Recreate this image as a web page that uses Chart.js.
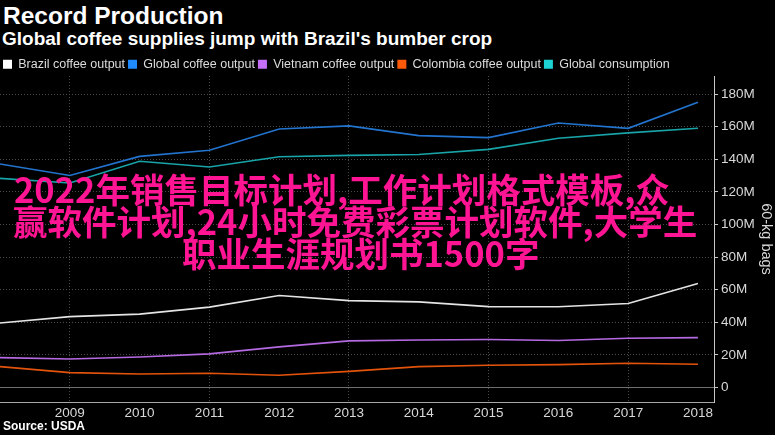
<!DOCTYPE html>
<html>
<head>
<meta charset="utf-8">
<script src="https://cdn.jsdelivr.net/npm/chart.js@4"></script>
<style>
    html, body { margin: 0; padding: 0; background: #000; }
    #page { position: relative; width: 775px; height: 435px; overflow: hidden; background: #000; }
    .title { position: absolute; left: 3px; top: 2px; color: #fff; font: bold 24.5px "Liberation Sans", Arial, sans-serif; white-space: nowrap; }
    .subtitle { position: absolute; left: 2px; top: 28px; color: #fff; font: bold 19px "Liberation Sans", Arial, sans-serif; white-space: nowrap; }
    .source { position: absolute; left: 3px; top: 419px; color: #fff; font: bold 12px "Liberation Sans", Arial, sans-serif; }
    #chart-box { position: absolute; left: 0; top: 55px; width: 775px; height: 367px; }
    .overlay { position: absolute; color: #ff1493; white-space: nowrap;
               font: bold 34.5px/32px "Noto Sans CJK SC", sans-serif; }
</style>
</head>
<body>
<div id="page">
    <div class="title">Record Production</div>
    <div class="subtitle">Global coffee supplies jump with Brazil's bumber crop</div>
    <div id="chart-box"><canvas id="production-chart"></canvas></div>
    <div class="source">Source: USDA</div>
    <div class="overlay" style="left:14px; top:172px;">2022年销售目标计划,工作计划格式模板,众</div>
    <div class="overlay" style="left:13px; top:204px;">赢软件计划,24小时免费彩票计划软件,大学生</div>
    <div class="overlay" style="left:182px; top:236px;">职业生涯规划书1500字</div>
</div>
<script>
    // values in millions of 60-kg bags
    const years = [2008, 2009, 2010, 2011, 2012, 2013, 2014, 2015, 2016, 2017, 2018];
    const brazilOutput = [39.6, 43.5, 45.0, 49.3, 56.4, 53.3, 52.5, 49.6, 49.5, 51.5, 63.8];
    const globalOutput = [137.1, 130.1, 141.8, 145.5, 158.6, 160.5, 154.5, 153.3, 162.3, 159.0, 175.0];
    const vietnamOutput = [18.3, 17.5, 18.7, 20.6, 24.9, 28.6, 29.1, 29.4, 28.8, 30.2, 30.6];
    const colombiaOutput = [12.8, 9.1, 8.3, 8.7, 7.5, 9.9, 12.8, 13.6, 14.0, 14.9, 14.3];
    const globalConsumption = [128.3, 125.5, 138.8, 135.3, 141.6, 142.4, 142.9, 146.1, 152.9, 156.2, 159.0];

    const xTicks = [2009, 2010, 2011, 2012, 2013, 2014, 2015, 2016, 2017, 2018];
    const yTicks = [0, 20, 40, 60, 80, 100, 120, 140, 160, 180];

    const series = [
        { label: 'Brazil coffee output', values: brazilOutput, line: '#e4e4e4', box: '#ffffff' },
        { label: 'Global coffee output', values: globalOutput, line: '#2274cf', box: '#1f8bff' },
        { label: 'Vietnam coffee output', values: vietnamOutput, line: '#b56ae2', box: '#c46ff5' },
        { label: 'Colombia coffee output', values: colombiaOutput, line: '#e3530b', box: '#ff5a0a' },
        { label: 'Global consumption', values: globalConsumption, line: '#18a4a8', box: '#1dd2d2' }
    ];

    function toPoints(values) {
        return values.map((v, i) => ({ x: years[i], y: v }));
    }

    function initChart() {
        const data = {
            datasets: series.map(s => ({
                label: s.label,
                data: toPoints(s.values),
                borderColor: s.line,
                backgroundColor: s.box,
                borderWidth: 1.6,
                pointRadius: 0,
                tension: 0
            }))
        };

        const config = {
            type: 'line',
            data: data,
            options: {
                responsive: true,
                maintainAspectRatio: false,
                animation: false,
                layout: { padding: 0 },
                plugins: {
                    tooltip: { enabled: false },
                    legend: {
                        position: 'top',
                        align: 'start',
                        maxHeight: 21,
                        labels: {
                            boxWidth: 9,
                            boxHeight: 9,
                            padding: 3,
                            color: '#dcdcdc',
                            font: { family: '"Liberation Sans", Arial, sans-serif', size: 12.5 },
                            generateLabels: function (chart) {
                                return Chart.defaults.plugins.legend.labels.generateLabels(chart).map(l => {
                                    l.lineWidth = 0;
                                    l.fillStyle = series[l.datasetIndex].box;
                                    return l;
                                });
                            }
                        }
                    }
                },
                scales: {
                    x: {
                        type: 'linear',
                        min: 2008,
                        max: 2018.23,
                        afterBuildTicks: scale => { scale.ticks = xTicks.map(v => ({ value: v })); },
                        afterFit: scale => { scale.height = 20; },
                        grid: {
                            color: ctx => (ctx.tick && ctx.tick.value % 2 === 1) ? '#4a4a4a' : 'rgba(0,0,0,0)',
                            lineWidth: 1,
                            drawTicks: false
                        },
                        border: { color: '#a8a8a8', width: 1, dash: [1, 2] },
                        ticks: {
                            color: '#d8d8d8',
                            padding: 3,
                            maxRotation: 0,
                            font: { family: '"Liberation Sans", Arial, sans-serif', size: 13.5 },
                            callback: v => String(v)
                        }
                    },
                    y: {
                        position: 'right',
                        min: -8.9,
                        max: 191.1,
                        afterBuildTicks: scale => {
                            const ticks = [];
                            yTicks.forEach(v => { ticks.push({ value: v }); ticks.push({ value: v + 10 }); });
                            scale.ticks = ticks;
                        },
                        afterFit: scale => { scale.width = 61; },
                        grid: {
                            color: ctx => {
                                if (!ctx.tick) return 'rgba(0,0,0,0)';
                                if (ctx.tick.value === 0) return '#6e6e6e';
                                return yTicks.includes(ctx.tick.value) ? '#4a4a4a' : 'rgba(0,0,0,0)';
                            },
                            tickColor: '#c8c8c8',
                            tickLength: 4,
                            lineWidth: 1
                        },
                        border: {
                            color: '#c8c8c8',
                            width: 1,
                            dash: ctx => (ctx.tick && ctx.tick.value === 0) ? [] : [1, 2]
                        },
                        ticks: {
                            color: '#d8d8d8',
                            padding: 3,
                            font: { family: '"Liberation Sans", Arial, sans-serif', size: 13.5 },
                            callback: v => yTicks.includes(v) ? (v === 0 ? '0' : v + 'M') : ''
                        },
                        title: {
                            display: true,
                            text: '60-kg bags',
                            color: '#d8d8d8',
                            padding: { top: 0, bottom: 2 },
                            font: { family: '"Liberation Sans", Arial, sans-serif', size: 14.5 }
                        }
                    }
                }
            }
        };

        new Chart(document.getElementById('production-chart'), config);
    }

    initChart();
</script>
</body>
</html>
